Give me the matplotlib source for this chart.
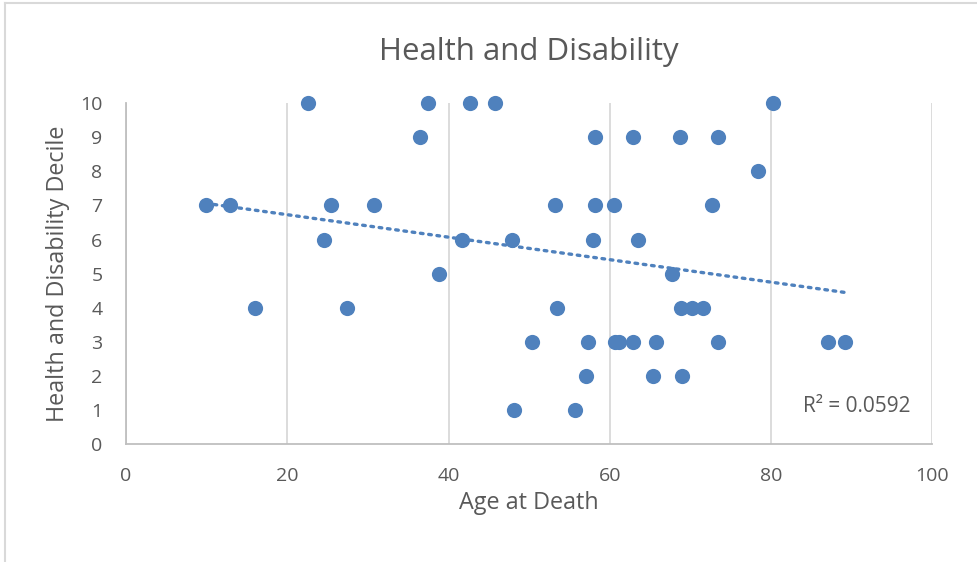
import numpy as np
import matplotlib
matplotlib.use("Agg")
import matplotlib.pyplot as plt
from matplotlib.lines import Line2D

# age at death vs health & disability decile
age = [22.6, 37.5, 42.65, 45.8, 80.2,
       36.5, 58.15, 62.9, 68.7, 73.4,
       78.4,
       9.9, 12.85, 25.4, 30.7, 53.2, 58.15, 60.5, 72.7,
       24.6, 41.7, 47.9, 57.9, 63.5,
       38.85, 67.7,
       15.95, 27.4, 53.4, 68.8, 70.2, 71.6,
       50.3, 57.3, 60.6, 61.1, 62.9, 65.7, 73.4, 87.1, 89.2,
       57.1, 65.35, 69.0,
       48.15, 55.7]
decile = [10, 10, 10, 10, 10,
          9, 9, 9, 9, 9,
          8,
          7, 7, 7, 7, 7, 7, 7, 7,
          6, 6, 6, 6, 6,
          5, 5,
          4, 4, 4, 4, 4, 4,
          3, 3, 3, 3, 3, 3, 3, 3, 3,
          2, 2, 2,
          1, 1]
x_ticks = [0, 20, 40, 60, 80, 100]
y_ticks = list(range(0, 11))
r2_label = "R² = 0.0592"

blue = "#4F81BD"
text_col = "#595959"
plt.rcParams["font.family"] = ["Open Sans", "DejaVu Sans"]

fig = plt.figure(figsize=(9.78, 5.62), dpi=100)
ax = fig.add_axes([126 / 978, 1 - 444.3 / 562, (932.3 - 126) / 978, (444.3 - 103) / 562])

ax.scatter(age, decile, s=120, color=blue, zorder=3, clip_on=False, linewidths=0)

# linear trendline
x = np.array(age)
k, b = np.polyfit(x, np.array(decile), 1)
xs = np.array([x.min(), x.max()])
ax.plot(xs, k * xs + b, color=blue, lw=2.4, ls=(0, (0.8, 1.7)),
        dash_capstyle="round", zorder=2)

ax.set_xlim(0, 100)
ax.set_ylim(0, 10)
ax.set_xticks(x_ticks)
ax.set_yticks(y_ticks)
ax.grid(axis="x", color="#D9D9D9", lw=1.3)
ax.set_axisbelow(True)
for s in ["top", "right"]:
    ax.spines[s].set_visible(False)
for s in ["left", "bottom"]:
    ax.spines[s].set_color("#BFBFBF")
    ax.spines[s].set_linewidth(1.3)
ax.tick_params(length=0, labelsize=14, colors=text_col)
ax.tick_params(axis="y", pad=17)
ax.tick_params(axis="x", pad=16)

ax.set_title("Health and Disability", fontsize=22.5, color=text_col, pad=31)
ax.set_xlabel("Age at Death", fontsize=16.8, color=text_col, labelpad=5)
ax.set_ylabel("Health and Disability Decile", fontsize=16.8, color=text_col, labelpad=7)
ax.text(97.3, 1.1, r2_label, ha="right", va="center", fontsize=15, color=text_col)

# chart border (partially cropped)
fig.add_artist(Line2D([5 / 978, 5 / 978], [0, 1 - 3 / 562], transform=fig.transFigure,
                      color="#D9D9D9", lw=1.5))
fig.add_artist(Line2D([5 / 978, 1], [1 - 3 / 562, 1 - 3 / 562], transform=fig.transFigure,
                      color="#D9D9D9", lw=1.5))

fig.savefig("out.png", dpi=100)
